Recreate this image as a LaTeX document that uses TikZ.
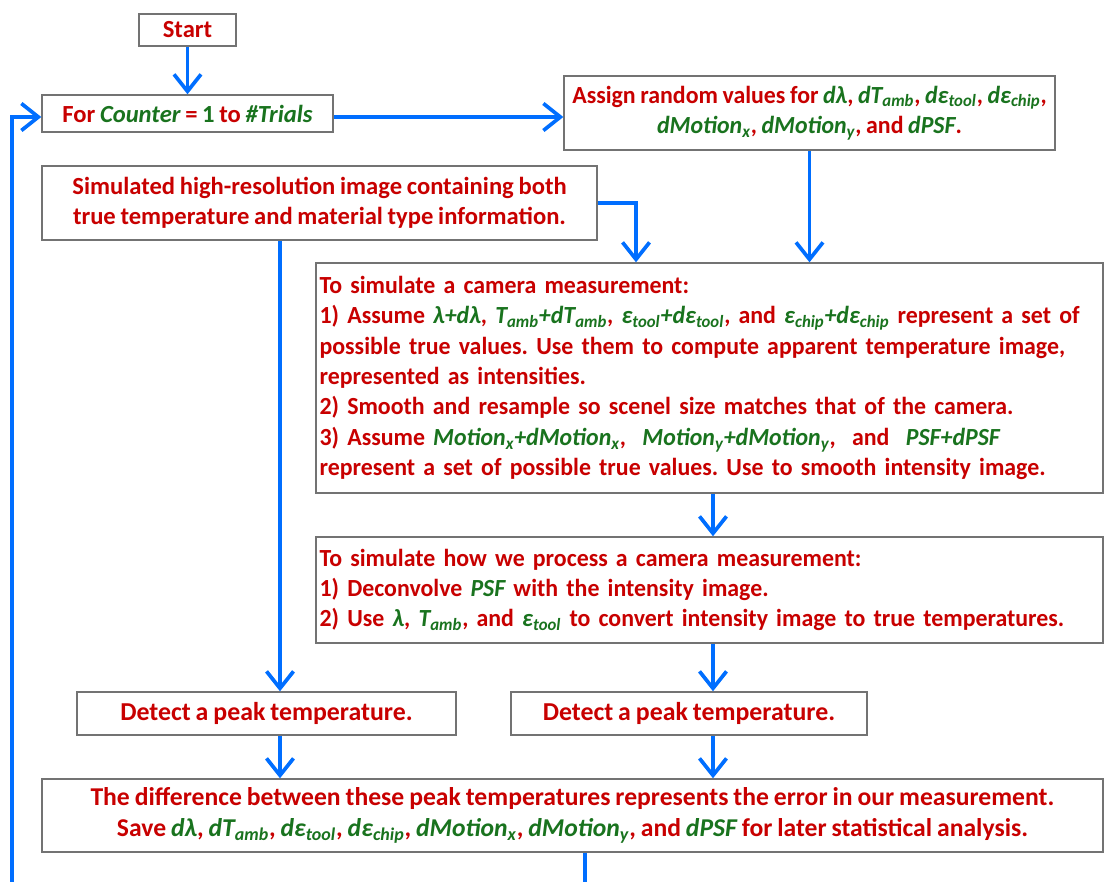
\documentclass[tikz,border=0pt]{standalone}
\usepackage{fontspec}
\setmainfont{Carlito}[WordSpace=0.85]
\newfontfamily\narrowfont{Carlito}[WordSpace=0.85, FakeStretch=0.97]
\usetikzlibrary{positioning, arrows.meta, calc}

\definecolor{txtred}{RGB}{200,0,0}
\definecolor{txtgreen}{RGB}{25,115,30}
\definecolor{flowblue}{RGB}{0,110,255}
\definecolor{boxgray}{RGB}{115,115,115}

% green italic quantities
\newcommand{\qv}[1]{{\color{txtgreen}\itshape #1}}
\newcommand{\qs}[2]{{\color{txtgreen}\itshape #1\textsubscript{#2}}}

\begin{document}
\frenchspacing
\begin{tikzpicture}[x=0.02cm, y=-0.02cm,
    box/.style={draw=boxgray, line width=0.8pt, fill=white, text=txtred,
        font=\fontsize{14}{17.3}\selectfont\bfseries, inner sep=0pt},
    narrow/.style={font=\narrowfont\fontsize{14}{17.3}\selectfont\bfseries},
    flow/.style={draw=flowblue, line width=2.1pt,
        -{Straight Barb[length=0.34cm, width=0.54cm, line width=2.1pt]}}]
    \clip (0,0) rectangle (1116,882);
    \useasboundingbox (0,0) rectangle (1116,882);

    \node[box, minimum width=1.94cm, minimum height=0.64cm] (start) at (187.5,30) {Start};
    \node[box, minimum width=5.82cm, minimum height=0.74cm] (for) at (187.5,113.5)
        {For \qv{Counter} = {\color{txtgreen}1} to \qv{\#Trials}};
    \node[box, narrow, minimum width=9.82cm, minimum height=1.48cm, align=center] (assign) at (809.5,113)
        {Assign random values for \qv{dλ}, \qs{dT}{amb}, \qs{dε}{tool}, \qs{dε}{chip},\\
         \qs{dMotion}{x}, \qs{dMotion}{y}, and \qv{dPSF}.};
    \node[box, minimum width=11.1cm, minimum height=1.48cm, align=center] (sim) at (319.5,203)
        {Simulated high-resolution image containing both\\
         true temperature and material type information.};
    \node[box, narrow, minimum width=15.74cm, minimum height=4.6cm, text width=15.6cm, align=left] (meas) at (709.5,378)
        {To simulate a camera measurement:\\
         1) Assume \qv{λ+dλ}, \qs{T}{amb}\qs{+dT}{amb}, \qs{ε}{tool}\qs{+dε}{tool}, and \qs{ε}{chip}\qs{+dε}{chip} represent a set of\\
         possible true values. Use them to compute apparent temperature image,\\
         represented as intensities.\\
         2) Smooth and resample so scenel size matches that of the camera.\\
         3) Assume \qs{Motion}{x}\qs{+dMotion}{x}, \ \qs{Motion}{y}\qs{+dMotion}{y}, \ and \ \qv{PSF+dPSF}\\
         represent a set of possible true values. Use to smooth intensity image.};
    \node[box, narrow, minimum width=15.74cm, minimum height=2.12cm, text width=15.6cm, align=left] (proc) at (709.5,590)
        {To simulate how we process a camera measurement:\\
         1) Deconvolve \qv{PSF} with the intensity image.\\
         2) Use \qv{λ}, \qs{T}{amb}, and \qs{ε}{tool} to convert intensity image to true temperatures.};
    \node[box, font=\fontsize{14.7}{17.3}\selectfont\bfseries, minimum width=7.58cm, minimum height=0.86cm] (peakA) at (266.5,713.5) {Detect a peak temperature.};
    \node[box, font=\fontsize{14.7}{17.3}\selectfont\bfseries, minimum width=7.12cm, minimum height=0.86cm] (peakB) at (689,713.5) {Detect a peak temperature.};
    \node[box, font=\fontsize{14.6}{17.3}\selectfont\bfseries, minimum width=21.22cm, minimum height=1.46cm, align=center] (diff) at (572.5,815.5)
        {The difference between these peak temperatures represents the error in our measurement.\\
         Save \qv{dλ}, \qs{dT}{amb}, \qs{dε}{tool}, \qs{dε}{chip}, \qs{dMotion}{x}, \qs{dMotion}{y}, and \qv{dPSF} for later statistical analysis.};
    \coordinate (rail) at (12,900);

    \draw[flow] (start) -- (for);
    \draw[flow] ([yshift=-0.07cm]for.east) -- ([yshift=-0.07cm]for.east -| assign.west);
    \draw[flow] (assign.south) -- (assign.south |- meas.north);
    \draw[flow] (sim.east) -| ([xshift=-1.47cm]meas.north);
    \draw[flow] ([xshift=0.07cm]meas.south) -- ([xshift=0.07cm]meas.south |- proc.north);
    \draw[flow] ([xshift=0.07cm]proc.south) -- ([xshift=0.07cm]proc.south |- peakB.north);
    \draw[flow] ([xshift=-0.79cm]sim.south) -- ([xshift=-0.79cm]sim.south |- peakA.north);
    \draw[flow] ([xshift=0.27cm]peakA.south) -- ([xshift=0.27cm]peakA.south |- diff.north);
    \draw[flow] ([xshift=0.48cm]peakB.south) -- ([xshift=0.48cm]peakB.south |- diff.north);
    \draw[flow] ([xshift=0.25cm]diff.south) |- (rail) |- ([yshift=-0.07cm]for.west);
\end{tikzpicture}
\end{document}
